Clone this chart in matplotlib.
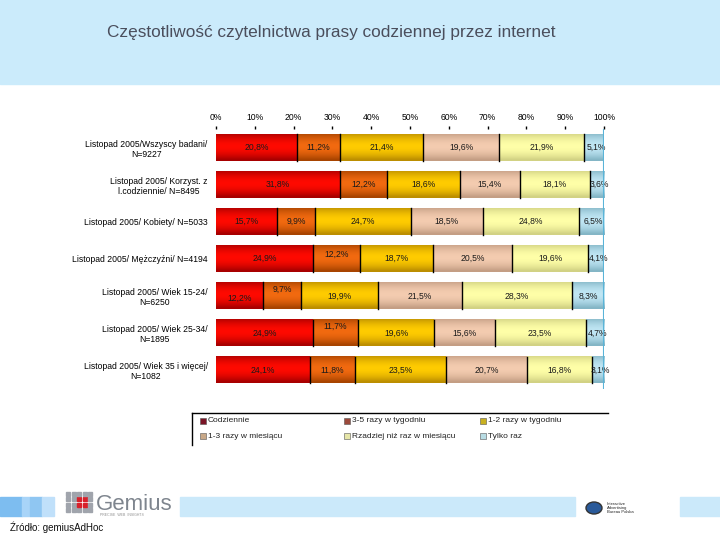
import numpy as np
import matplotlib
matplotlib.use("Agg")
import matplotlib.pyplot as plt
from matplotlib.patches import Rectangle, Circle
from matplotlib.lines import Line2D
from matplotlib.colors import to_rgb

plt.rcParams['font.family'] = ['Liberation Sans', 'DejaVu Sans']

title = "Częstotliwość czytelnictwa prasy codziennej przez internet"
categories = [
    "Listopad 2005/Wszyscy badani/\nN=9227",
    "Listopad 2005/ Korzyst. z\nl.codziennie/ N=8495",
    "Listopad 2005/ Kobiety/ N=5033",
    "Listopad 2005/ Mężczyźni/ N=4194",
    "Listopad 2005/ Wiek 15-24/\nN=6250",
    "Listopad 2005/ Wiek 25-34/\nN=1895",
    "Listopad 2005/ Wiek 35 i więcej/\nN=1082",
]
series_names = ["Codziennie", "3-5 razy w tygodniu", "1-2 razy w tygodniu",
                "1-3 razy w miesiącu", "Rzadziej niż raz w miesiącu", "Tylko raz"]
codziennie = [20.8, 31.8, 15.7, 24.9, 12.2, 24.9, 24.1]
razy_3_5 = [11.2, 12.2, 9.9, 12.2, 9.7, 11.7, 11.8]
razy_1_2 = [21.4, 18.6, 24.7, 18.7, 19.9, 19.6, 23.5]
miesiac_1_3 = [19.6, 15.4, 18.5, 20.5, 21.5, 15.6, 20.7]
rzadziej = [21.9, 18.1, 24.8, 19.6, 28.3, 23.5, 16.8]
tylko_raz = [5.1, 3.6, 6.5, 4.1, 8.3, 4.7, 3.1]
tick_labels = ["0%", "10%", "20%", "30%", "40%", "50%", "60%", "70%", "80%", "90%", "100%"]

series = [codziennie, razy_3_5, razy_1_2, miesiac_1_3, rzadziej, tylko_raz]

# (center color, edge color) for vertical gradients
bar_colors = [("#FF0A00", "#A80000"), ("#F26A10", "#A84400"), ("#FFCC00", "#BC8E00"),
              ("#F4CCB0", "#C49E84"), ("#FFFFA8", "#D2D284"), ("#C0E6F4", "#84B6C6")]
legend_colors = ["#7A1426", "#9C4A3C", "#C8B020", "#C8A888", "#E6E6A8", "#B8DCE4"]
label_offsets = {(3, 1): -0.12, (4, 0): 0.06, (4, 1): -0.17, (5, 1): -0.19}

W, H = 720, 540
fig = plt.figure(figsize=(7.2, 5.4), dpi=100)

def fx(px): return px / W
def fy(py): return 1 - py / H

# top band
fig.patches.append(Rectangle((0, fy(84)), 1, 84 / H, transform=fig.transFigure,
                             color="#CBEBFB", zorder=0))
fig.text(fx(107), fy(32), title, fontsize=12.4, color="#4A4E5C", va="center", ha="left")

# bar axes
ax = fig.add_axes([fx(216), fy(388.5), fx(604) - fx(216), (388.5 - 129) / H])
n = len(categories)
bh = 0.72
data = np.array(series)  # shape (6, n)
totals = data.sum(axis=0)
norm = data / totals * 100
lefts = np.vstack([np.zeros(n), np.cumsum(norm, axis=0)[:-1]])

prof = np.linspace(-1, 1, 64)
w = np.clip(1 - np.abs(prof + 0.1) ** 1.8, 0, 1)[:, None]
for s in range(len(series)):
    c1 = np.array(to_rgb(bar_colors[s][0]))
    c2 = np.array(to_rgb(bar_colors[s][1]))
    grad = (w * c1 + (1 - w) * c2)[:, None, :]
    for i in range(n):
        l = lefts[s, i]
        r = l + norm[s, i]
        ax.imshow(grad, extent=[l, r, i + bh / 2, i - bh / 2], aspect="auto",
                  interpolation="bilinear", zorder=2)
        if s > 0:
            ax.plot([l, l], [i - bh / 2, i + bh / 2], color="black", lw=1.0, zorder=3)
        txt = f"{series[s][i]:.1f}%".replace(".", ",")
        xc = l + norm[s, i] / 2
        if norm[s, i] < 7:
            xc = l + norm[s, i] / 2 + 0.6
        ax.text(xc, i + label_offsets.get((i, s), 0), txt, ha="center", va="center",
                fontsize=6.2, color="#1A1A1A", zorder=4)

ax.set_xlim(0, 100)
ax.set_ylim(n - 0.5, -0.5)
ax.set_yticks(range(n))
ax.set_yticklabels(categories, fontsize=6.2, multialignment="center")
ax.tick_params(axis="y", length=0, pad=6)
ax.set_xticks(np.arange(0, 101, 10))
ax.set_xticklabels(tick_labels, fontsize=6.2)
ax.xaxis.tick_top()
ax.tick_params(axis="x", length=2, width=1, pad=3, direction="out", colors="black")
for sp in ax.spines.values():
    sp.set_visible(False)
ax.axvline(100, color="#5AB4D8", lw=1.5, zorder=5)

# legend box
fig.add_artist(Line2D([fx(192), fx(608)], [fy(413), fy(413)], color="black", lw=1))
fig.add_artist(Line2D([fx(192), fx(192)], [fy(413), fy(445)], color="black", lw=1))
col_x = [203, 347, 483]
row_y = [421, 436]
for k, name in enumerate(series_names):
    cx = col_x[k % 3]
    cy = row_y[k // 3]
    fig.patches.append(Rectangle((fx(cx - 3), fy(cy + 3)), 6 / W, 6 / H,
                                 transform=fig.transFigure, facecolor=legend_colors[k],
                                 edgecolor="#555555", lw=0.4))
    fig.text(fx(cx + 5), fy(cy), name, fontsize=6, va="center", ha="left", color="#222222")

# bottom strip
strip = [(0, 22, "#7DBDF0"), (22, 30, "#A8D4F8"), (30, 42, "#8FC6F2"), (42, 54, "#C0E0FA"),
         (180, 575, "#CBE9FA"), (680, 720, "#CBE9FA")]
for x0, x1, col in strip:
    fig.patches.append(Rectangle((fx(x0), fy(516)), (x1 - x0) / W, 19 / H,
                                 transform=fig.transFigure, color=col, zorder=0))
# Gemius logo approximation
for gi in range(5):
    for gj in range(4):
        col = "#D8202A" if (gi in (2, 3) and gj in (1, 2)) else "#A0A4AC"
        fig.patches.append(Rectangle((fx(66 + gi * 5.5), fy(512 - gj * 5.5)), 4 / W, 4 / H,
                                     transform=fig.transFigure, color=col))
fig.text(fx(96), fy(504), "Gemius", fontsize=16, color="#7E858E", va="center", ha="left")
fig.text(fx(100), fy(515), "PRECISE  WEB  INSIGHTS", fontsize=2.5, color="#909090",
         va="center", ha="left")
# IAB logo approximation
fig.patches.append(Circle((fx(594), fy(508)), 8 / W, transform=fig.transFigure,
                          facecolor="#2A5A9A", edgecolor="#333333", lw=1))
fig.text(fx(607), fy(508), "Interactive\nAdvertising\nBureau Polska", fontsize=3,
         color="#222222", va="center", ha="left", linespacing=0.9)

fig.text(fx(10), fy(527), "Źródło: gemiusAdHoc", fontsize=7, color="#111111",
         va="center", ha="left")

fig.savefig("out.png", dpi=100)
